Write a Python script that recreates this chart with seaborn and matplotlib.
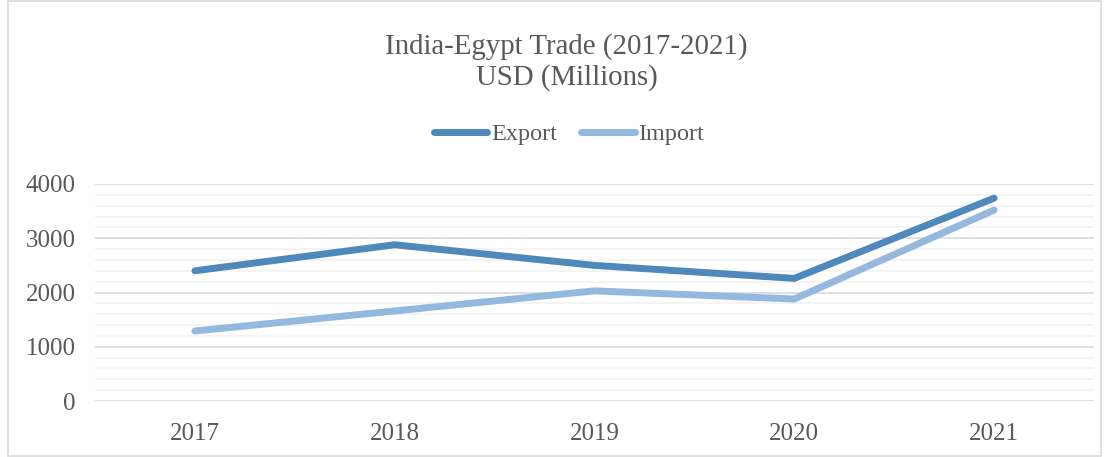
import matplotlib
matplotlib.use("Agg")
import matplotlib.pyplot as plt
import seaborn as sns
import pandas as pd
from matplotlib.ticker import MultipleLocator
from matplotlib.lines import Line2D

years = ["2017", "2018", "2019", "2020", "2021"]
export_vals = [2400, 2880, 2500, 2260, 3740]
import_vals = [1290, 1660, 2030, 1880, 3520]
series_names = ["Export", "Import"]
colors = ["#4f88bb", "#95b8df"]

df = pd.DataFrame({
    "Year": years * 2,
    "Value": export_vals + import_vals,
    "Series": [series_names[0]] * len(years) + [series_names[1]] * len(years),
})

sns.set_theme(style="white")
plt.rcParams["font.family"] = ["Liberation Serif", "DejaVu Serif"]

fig = plt.figure(figsize=(11.09, 4.57), dpi=100)
ax = fig.add_axes([95 / 1109, 1 - 401 / 457, (1094 - 95) / 1109, (401 - 184) / 457])

sns.lineplot(data=df, x="Year", y="Value", hue="Series", palette=colors,
             linewidth=5, ax=ax, sort=False, legend=False,
             solid_capstyle="round", solid_joinstyle="miter")

ax.set_xlim(-0.5, 4.5)
ax.set_ylim(0, 4000)
ax.yaxis.set_major_locator(MultipleLocator(1000))
ax.yaxis.set_minor_locator(MultipleLocator(200))
ax.grid(which="major", axis="y", color="#d9d9d9", linewidth=1.2)
ax.grid(which="minor", axis="y", color="#f2f2f2", linewidth=1.2)
ax.set_axisbelow(True)
for s in ax.spines.values():
    s.set_visible(False)
ax.set_xlabel("")
ax.set_ylabel("")
ax.tick_params(axis="both", which="both", length=0, labelsize=18, labelcolor="#595959")
ax.tick_params(axis="x", pad=16)
ax.tick_params(axis="y", pad=14)

fig.text(0.511, 1 - 47 / 457, "India-Egypt Trade (2017-2021)", ha="center", va="center",
         fontsize=20.8, color="#595959")
fig.text(0.511, 1 - 78 / 457, "USD (Millions)", ha="center", va="center",
         fontsize=20.8, color="#595959")

handles = [Line2D([0], [0], color=c, linewidth=5, solid_capstyle="round") for c in colors]
fig.legend(handles, series_names, loc="center", bbox_to_anchor=(0.513, 1 - 134 / 457),
           ncol=2, frameon=False, fontsize=17.5, labelcolor="#595959",
           handlelength=2.2, handletextpad=0.15, columnspacing=1.0)

border = plt.Rectangle((8 / 1109, 0.002), 1 - 16 / 1109, 0.996, transform=fig.transFigure,
                       fill=False, edgecolor="#d9d9d9", linewidth=1.2)
fig.patches.append(border)

fig.savefig("out.png", dpi=100)
